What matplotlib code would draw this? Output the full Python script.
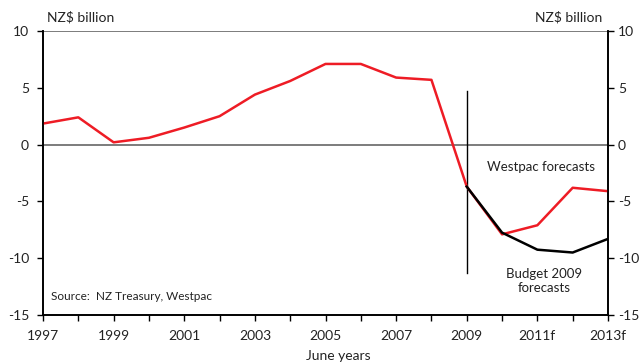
import matplotlib.pyplot as plt

plt.rcParams['font.family'] = ['Lato', 'DejaVu Sans']

# fiscal balance, June years
years = [1997, 1998, 1999, 2000, 2001, 2002, 2003, 2004, 2005, 2006,
         2007, 2008, 2009, 2010, 2011, 2012, 2013]
westpac = [1.85, 2.4, 0.2, 0.6, 1.5, 2.5, 4.4, 5.6, 7.1, 7.1,
           5.9, 5.7, -3.7, -7.9, -7.1, -3.8, -4.1]

budget_years = [2009, 2010, 2011, 2012, 2013]
budget = [-3.7, -7.75, -9.25, -9.5, -8.3]

xtick_labels = {1997: "1997", 1999: "1999", 2001: "2001", 2003: "2003", 2005: "2005",
                2007: "2007", 2009: "2009", 2011: "2011f", 2013: "2013f"}
yticks = [-15, -10, -5, 0, 5, 10]

txt = "#222222"
grey = "#666666"

fig = plt.figure(figsize=(6.39, 3.62), dpi=100)
ax = fig.add_axes([43 / 639, 47 / 362, 565 / 639, 284 / 362])

ax.axhline(0, color=grey, lw=1.2, zorder=1)
ax.axhline(10, color=grey, lw=1.2, zorder=1)
ax.plot([2009, 2009], [4.7, -11.3], color="black", lw=1.0, zorder=2)

ax.plot(years, westpac, color="#ee1c25", lw=1.8, zorder=3)
ax.plot(budget_years, budget, color="black", lw=1.8, zorder=4)

ax.set_xlim(1997, 2013)
ax.set_ylim(-15, 10)
ax.set_xticks(years)
ax.set_xticklabels([xtick_labels.get(y, "") for y in years])
ax.set_yticks(yticks)
ax.set_yticklabels([str(v) for v in yticks])
ax.tick_params(axis="both", direction="out", length=4, width=1, colors="black",
               labelcolor=txt, labelsize=10)
ax.tick_params(axis="y", pad=6)
ax.tick_params(axis="x", pad=7)

# right-hand scale, mirrored
ax2 = ax.twinx()
ax2.set_ylim(-15, 10)
ax2.set_yticks(yticks)
ax2.set_yticklabels([str(v) for v in yticks])
ax2.tick_params(axis="y", direction="out", length=4, width=1, colors="black",
                labelcolor=txt, labelsize=10, pad=3)

for a in (ax, ax2):
    for side in ["left", "right", "bottom"]:
        a.spines[side].set_color("black")
        a.spines[side].set_linewidth(1.2)
    a.spines["top"].set_visible(False)

ax.set_xlabel("June years", fontsize=10, color=txt)
ax.xaxis.set_label_coords(0.522, -0.125)

ax.text(0.007, 1.025, "NZ$ billion", transform=ax.transAxes, fontsize=10,
        color=txt, ha="left", va="bottom")
ax.text(0.99, 1.025, "NZ$ billion", transform=ax.transAxes, fontsize=10,
        color=txt, ha="right", va="bottom")
ax.text(2011.1, -1.95, "Westpac forecasts", fontsize=9.5, color=txt,
        ha="center", va="center")
ax.text(2011.2, -12.0, "Budget 2009\nforecasts", fontsize=9.5, color=txt,
        ha="center", va="center", linespacing=1.25)
ax.text(1997.22, -13.4, "Source:  NZ Treasury, Westpac", fontsize=8.5, color=txt,
        ha="left", va="center")

fig.savefig("out.png", dpi=100)
